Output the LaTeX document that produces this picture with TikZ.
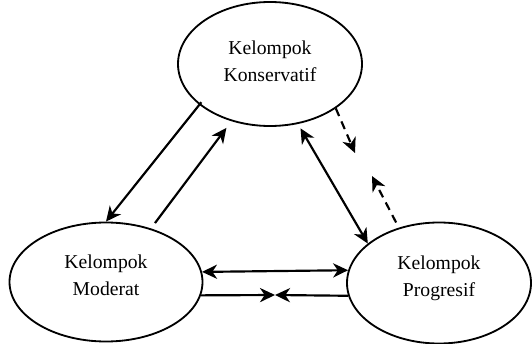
\documentclass[tikz,border=0pt]{standalone}
\usepackage{fontspec}
\setmainfont{Liberation Serif}
\usetikzlibrary{shapes.geometric}
\usetikzlibrary{arrows.meta}
\tikzset{%
  myedge/.style={->, line width=1.3pt, >={Stealth[length=9pt, width=8.5pt, inset=2.8pt]}},
  mydash/.style={myedge, dash pattern=on 5pt off 3.5pt},
  mynode/.style={ellipse, draw=black, line width=1.1pt, inner sep=0pt, align=center,
    font=\fontsize{11.8}{16.2}\selectfont, text depth=8pt,
    minimum width=110.4pt, minimum height=73pt}
}

\begin{document}
\begin{tikzpicture}[x=0.6pt, y=-0.6pt]
\useasboundingbox (0,0) rectangle (532,344);

\node [mynode, minimum height=74.4pt, text depth=3.6pt] (K) at (270,64) {Kelompok\\Konservatif};
\node [mynode, minimum width=115.8pt, minimum height=71.4pt] (M) at (106,282) {Kelompok\\Moderat};
\node [mynode, minimum height=72.6pt] (P) at (439,283) {Kelompok\\Progresif};

% free ends
\coordinate (D1) at (355,153);
\coordinate (D2) at (372,176);
\coordinate (X) at (275,295);

\draw [myedge, shorten <=-2pt] (K.210) -- (M.90);
\draw [myedge, shorten <=4pt, shorten >=5pt] (M.50) -- (K.236);
\draw [myedge, <->, shorten <=3pt] (K.295) -- (P.151);

% dashed
\draw [mydash] (K.326) -- (D1);
\draw [mydash, shorten <=3.5pt] (P.126) -- (D2);

\draw [myedge, <->] (M.6.6) -- (P.172.4);
\draw [myedge] (M.352) -- (X);
\draw [myedge] (P.188) -- (X);

\end{tikzpicture}
\end{document}
